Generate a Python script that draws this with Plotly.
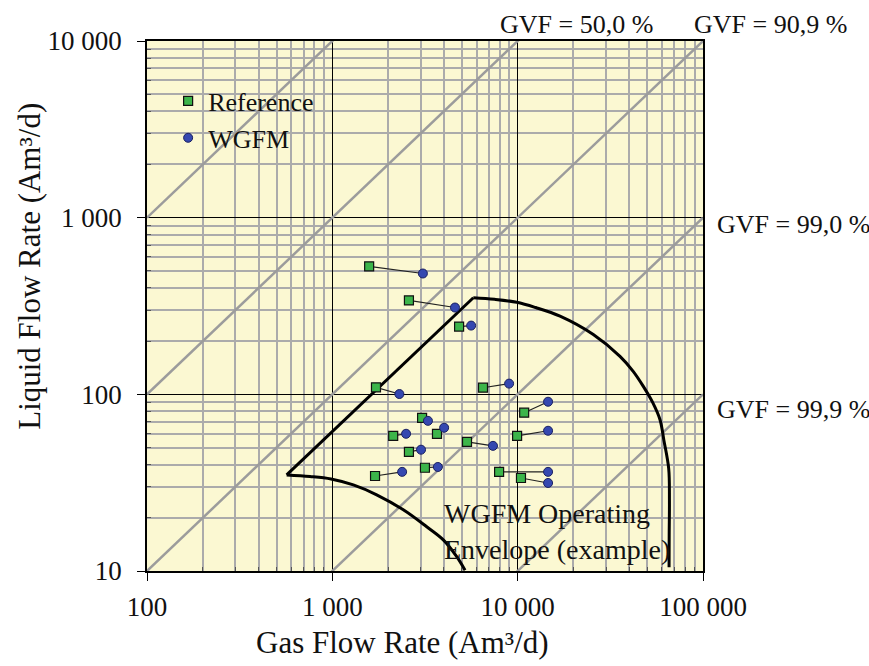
import plotly.graph_objects as go

# ---- data ----
ref_gas = [1580, 2590, 4830, 1720, 6500, 10840, 3050, 2130, 3670, 9930, 5330, 2590, 3160, 1700, 7940, 10420]
ref_liq = [530, 340, 242, 109.5, 109, 78.7, 73.6, 58.2, 59.8, 58.2, 53.8, 47.2, 38.4, 34.5, 36.4, 33.6]
wgfm_gas = [3080, 4590, 5610, 2300, 8990, 14590, 3280, 2500, 4010, 14590, 7360, 3010, 3710, 2380, 14590, 14590]
wgfm_liq = [483, 310, 245, 100.4, 115, 90.8, 70.8, 59.8, 64.7, 62.2, 51.1, 48.6, 38.8, 36.4, 36.4, 31.5]

# operating envelope outline (gas, liquid), in three pieces
env_right_gas = [65600, 65700, 65900, 65300, 61500, 58620, 53500, 47640, 42000, 35650, 25590,
                 16930, 12500, 9880, 7500, 5763]
env_right_liq = [10.5, 16, 25, 38, 55, 71.8, 90, 111, 135, 164, 218,
                 277, 310, 332, 345, 352]
env_edge_gas = [5763, 567]
env_edge_liq = [352, 35.0]
env_low_gas = [567, 758, 984, 1298, 1735, 2415, 3230, 3970, 4690, 5200]
env_low_liq = [35.0, 34.3, 33.2, 30.7, 27.0, 22.2, 17.8, 15.0, 12.05, 10.1]

# iso-GVF lines: liquid/gas ratio
gvf_ratios = [10, 1, 0.1, 0.01, 0.001]

gas_ticks = [100, 1000, 10000, 100000]
gas_ticktext = ["100", "1 000", "10 000", "100 000"]
liq_ticks = [10, 100, 1000, 10000]
liq_ticktext = ["10", "100", "1 000", "10 000"]
minor_mult = [2, 3, 4, 5, 6, 7, 8, 9]

FONT = "Liberation Serif"
TXT = "#111111"
BG = "#FBF8D2"

fig = go.Figure()

for r in gvf_ratios:
    fig.add_trace(go.Scatter(
        x=[gas_ticks[0], gas_ticks[-1]], y=[r * gas_ticks[0], r * gas_ticks[-1]],
        mode="lines", line=dict(color="#9C9C9C", width=2.5), showlegend=False, hoverinfo="skip"))

env_line = dict(color="black", width=3)
fig.add_trace(go.Scatter(x=env_right_gas, y=env_right_liq, mode="lines",
                         line=dict(env_line, shape="spline", smoothing=1.0),
                         showlegend=False, hoverinfo="skip"))
fig.add_trace(go.Scatter(x=env_edge_gas, y=env_edge_liq, mode="lines", line=env_line,
                         showlegend=False, hoverinfo="skip"))
fig.add_trace(go.Scatter(x=env_low_gas, y=env_low_liq, mode="lines",
                         line=dict(env_line, shape="spline", smoothing=1.0),
                         showlegend=False, hoverinfo="skip"))

cx, cy = [], []
for a, b, c, d in zip(ref_gas, ref_liq, wgfm_gas, wgfm_liq):
    cx += [a, c, None]
    cy += [b, d, None]
fig.add_trace(go.Scatter(x=cx, y=cy, mode="lines", line=dict(color="#222222", width=1.2),
                         showlegend=False, hoverinfo="skip"))

fig.add_trace(go.Scatter(x=ref_gas, y=ref_liq, mode="markers", name="Reference",
                         marker=dict(symbol="square", size=9, color="#3CB54A",
                                     line=dict(color="#111111", width=1.2))))
fig.add_trace(go.Scatter(x=wgfm_gas, y=wgfm_liq, mode="markers", name="WGFM",
                         marker=dict(symbol="circle", size=9, color="#3548B0",
                                     line=dict(color="#1A2060", width=1))))

minor_x = [m * d for d in gas_ticks[:-1] for m in minor_mult]
minor_y = [m * d for d in liq_ticks[:-1] for m in minor_mult]

axis_common = dict(type="log", showline=True, linecolor="black", linewidth=1.5, mirror=True,
                   ticks="outside", ticklen=8, tickcolor="black", tickwidth=1.2,
                   showgrid=True, gridcolor="black", gridwidth=1.3, zeroline=False,
                   tickfont=dict(family=FONT, size=27, color=TXT))

fig.update_xaxes(**axis_common, range=[2, 5], tickvals=gas_ticks, ticktext=gas_ticktext,
                 ticklabelstandoff=3,
                 minor=dict(tickvals=minor_x, showgrid=True, gridcolor="#ABABAB", gridwidth=2.2,
                            ticks="inside", ticklen=4, tickcolor="#555555"))
fig.update_yaxes(**axis_common, range=[1, 4], tickvals=liq_ticks, ticktext=liq_ticktext,
                 ticklabelstandoff=10,
                 minor=dict(tickvals=minor_y, showgrid=True, gridcolor="#ABABAB", gridwidth=2.2,
                            ticks="inside", ticklen=4, tickcolor="#555555"))

ann_font = dict(family=FONT, size=26, color=TXT)
annotations = [
    dict(text="GVF = 50,0 %", x=0.631, y=1.032, xanchor="left", yanchor="middle", font=ann_font),
    dict(text="GVF = 90,9 %", x=0.980, y=1.032, xanchor="left", yanchor="middle", font=ann_font),
    dict(text="GVF = 99,0 %", x=1.0216, y=0.653, xanchor="left", yanchor="middle", font=ann_font),
    dict(text="GVF = 99,9 %", x=1.0216, y=0.304, xanchor="left", yanchor="middle", font=ann_font),
    dict(text="WGFM Operating<br>Envelope (example)", x=0.5306, y=0.0736, xanchor="left",
         yanchor="middle", align="left", font=dict(family=FONT, size=28, color=TXT)),
    dict(text="Liquid Flow Rate (Am³/d)", x=-0.2104, y=0.574, textangle=-90,
         xanchor="center", yanchor="middle", font=dict(family=FONT, size=31, color=TXT)),
    dict(text="Gas Flow Rate (Am³/d)", x=0.4604, y=-0.134, xanchor="center",
         yanchor="middle", font=dict(family=FONT, size=31, color=TXT)),
]
for a in annotations:
    a.update(xref="paper", yref="paper", showarrow=False)

fig.update_layout(
    width=869, height=666, autosize=False,
    margin=dict(l=147, r=166, t=41, b=95),
    paper_bgcolor="white", plot_bgcolor=BG,
    annotations=annotations,
    legend=dict(x=0.038, y=0.931, xanchor="left", yanchor="top", bgcolor="rgba(0,0,0,0)",
                font=dict(family=FONT, size=26, color=TXT), itemsizing="trace",
                tracegroupgap=0),
)

fig.write_html("out.html")
